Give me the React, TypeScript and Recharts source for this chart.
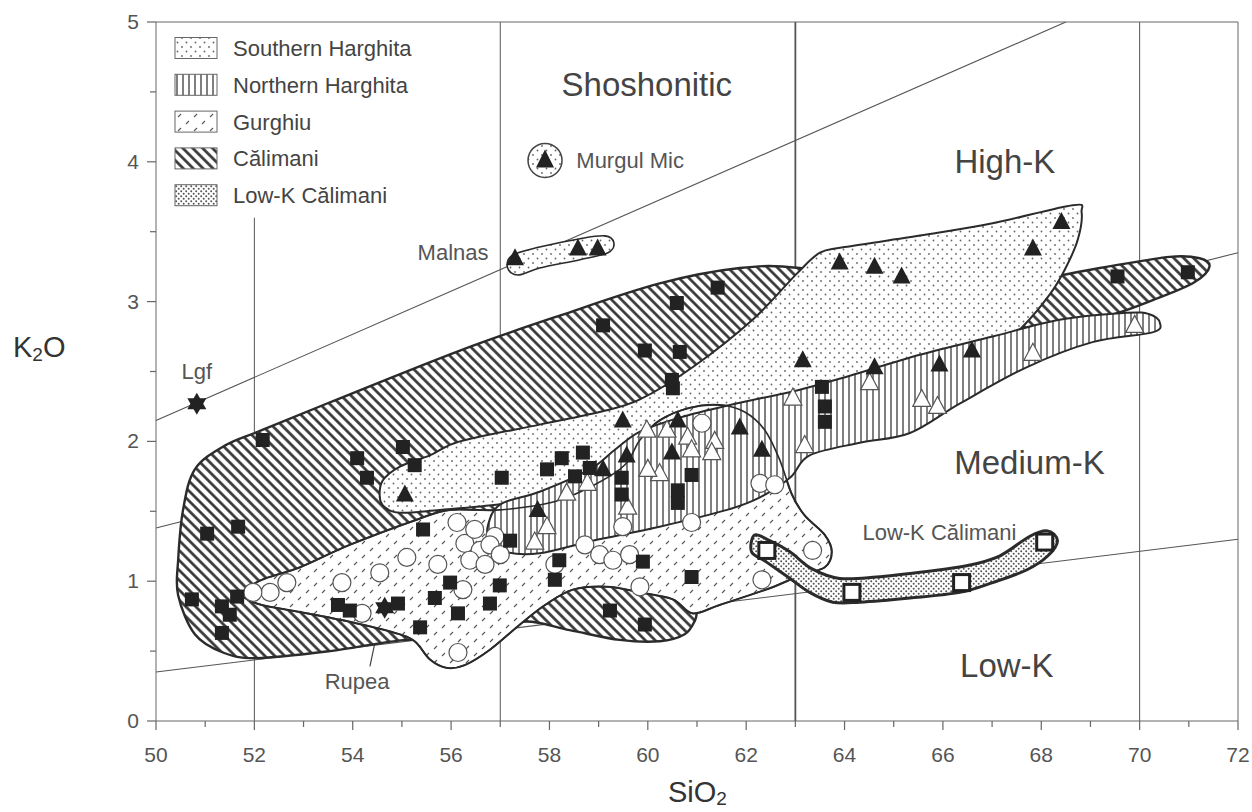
import React from "react";
import { ScatterChart, Scatter, XAxis, YAxis, ReferenceLine } from "recharts";

type Pt = { x: number; y: number };
type Label = { x: number; y: number; text: string };

const FONT = '"Liberation Sans", Arial, Helvetica, sans-serif';

// SiO2 wt% (x) vs K2O wt% (y)
const calimaniSamples: Pt[] = [
  { x: 52.17, y: 2.01 }, { x: 55.02, y: 1.96 }, { x: 54.09, y: 1.88 }, { x: 55.26, y: 1.83 },
  { x: 54.29, y: 1.74 }, { x: 51.04, y: 1.34 }, { x: 51.67, y: 1.39 }, { x: 55.43, y: 1.37 },
  { x: 50.73, y: 0.87 }, { x: 51.65, y: 0.89 }, { x: 51.34, y: 0.82 }, { x: 51.5, y: 0.76 },
  { x: 51.34, y: 0.63 }, { x: 53.7, y: 0.83 }, { x: 53.94, y: 0.79 }, { x: 54.92, y: 0.84 },
  { x: 55.98, y: 0.99 }, { x: 55.67, y: 0.88 }, { x: 56.14, y: 0.77 }, { x: 55.37, y: 0.67 },
  { x: 60.51, y: 2.38 }, { x: 57.03, y: 1.74 }, { x: 58.25, y: 1.88 }, { x: 58.68, y: 1.92 },
  { x: 57.95, y: 1.8 }, { x: 58.52, y: 1.75 }, { x: 58.82, y: 1.81 }, { x: 59.47, y: 1.74 },
  { x: 59.47, y: 1.62 }, { x: 60.89, y: 1.76 }, { x: 60.61, y: 1.65 }, { x: 60.61, y: 1.56 },
  { x: 57.2, y: 1.29 }, { x: 56.99, y: 0.97 }, { x: 56.79, y: 0.84 }, { x: 58.11, y: 1.01 },
  { x: 59.9, y: 1.14 }, { x: 60.89, y: 1.03 }, { x: 59.23, y: 0.79 }, { x: 59.94, y: 0.69 },
  { x: 58.2, y: 1.15 }, { x: 61.42, y: 3.1 }, { x: 60.59, y: 2.99 }, { x: 59.09, y: 2.83 },
  { x: 59.94, y: 2.65 }, { x: 60.65, y: 2.64 }, { x: 60.49, y: 2.44 }, { x: 63.54, y: 2.39 },
  { x: 63.6, y: 2.25 }, { x: 63.6, y: 2.14 }, { x: 69.55, y: 3.18 }, { x: 70.98, y: 3.21 },
];

const southernHarghitaSamples: Pt[] = [
  { x: 57.3, y: 3.31 }, { x: 58.58, y: 3.38 }, { x: 58.98, y: 3.38 },
  { x: 63.9, y: 3.28 }, { x: 64.61, y: 3.25 }, { x: 65.16, y: 3.18 }, { x: 67.83, y: 3.38 },
  { x: 68.41, y: 3.57 }, { x: 63.15, y: 2.58 }, { x: 64.61, y: 2.53 }, { x: 65.93, y: 2.55 },
  { x: 66.59, y: 2.65 }, { x: 59.49, y: 2.15 }, { x: 60.61, y: 2.15 }, { x: 61.87, y: 2.1 },
  { x: 62.32, y: 1.94 }, { x: 60.49, y: 1.92 }, { x: 59.57, y: 1.9 }, { x: 57.76, y: 1.51 },
  { x: 59.09, y: 1.8 }, { x: 55.06, y: 1.62 },
];

const northernHarghitaSamples: Pt[] = [
  { x: 62.95, y: 2.31 }, { x: 63.19, y: 1.97 }, { x: 64.51, y: 2.42 }, { x: 65.57, y: 2.3 },
  { x: 65.89, y: 2.25 }, { x: 67.83, y: 2.63 }, { x: 69.9, y: 2.83 }, { x: 60.39, y: 2.08 },
  { x: 60.81, y: 2.03 }, { x: 61.36, y: 2.0 }, { x: 60.89, y: 1.94 }, { x: 61.3, y: 1.92 },
  { x: 60.24, y: 1.77 }, { x: 58.35, y: 1.63 }, { x: 58.77, y: 1.7 }, { x: 59.59, y: 1.53 },
  { x: 57.95, y: 1.39 }, { x: 57.7, y: 1.28 }, { x: 59.98, y: 2.08 }, { x: 60.0, y: 1.8 },
];

const gurghiuSamples: Pt[] = [
  { x: 52.66, y: 0.99 }, { x: 52.32, y: 0.92 }, { x: 51.97, y: 0.92 }, { x: 53.78, y: 0.99 },
  { x: 54.19, y: 0.77 }, { x: 54.55, y: 1.06 }, { x: 55.1, y: 1.17 }, { x: 55.73, y: 1.12 },
  { x: 56.12, y: 1.42 }, { x: 56.24, y: 0.94 }, { x: 56.28, y: 1.27 }, { x: 56.14, y: 0.49 },
  { x: 56.48, y: 1.37 }, { x: 56.89, y: 1.32 }, { x: 56.59, y: 1.22 }, { x: 56.38, y: 1.15 },
  { x: 56.79, y: 1.26 }, { x: 57.0, y: 1.19 }, { x: 56.69, y: 1.12 }, { x: 58.11, y: 1.12 },
  { x: 58.72, y: 1.26 }, { x: 59.02, y: 1.19 }, { x: 59.29, y: 1.15 }, { x: 59.63, y: 1.19 },
  { x: 59.49, y: 1.39 }, { x: 59.84, y: 0.96 }, { x: 61.1, y: 2.13 }, { x: 60.89, y: 1.42 },
  { x: 62.28, y: 1.7 }, { x: 62.58, y: 1.69 }, { x: 62.32, y: 1.01 }, { x: 63.35, y: 1.22 },
];

const lowKCalimaniSamples: Pt[] = [
  { x: 62.42, y: 1.22 }, { x: 64.15, y: 0.92 }, { x: 66.38, y: 0.99 }, { x: 68.07, y: 1.28 },
];

const starSamples: Pt[] = [{ x: 50.83, y: 2.27 }, { x: 54.65, y: 0.81 }];
const murgulMicSymbol: Pt[] = [{ x: 57.91, y: 4.01 }];

// field outlines
const calimaniField: Pt[] = [
  { x: 50.79, y: 1.8 }, { x: 51.4, y: 1.97 }, { x: 52.15, y: 2.08 }, { x: 53.54, y: 2.28 },
  { x: 56.18, y: 2.65 }, { x: 58.21, y: 2.9 }, { x: 60.24, y: 3.13 }, { x: 61.87, y: 3.24 },
  { x: 63.09, y: 3.24 }, { x: 65.12, y: 3.12 }, { x: 67.15, y: 3.12 }, { x: 69.19, y: 3.24 },
  { x: 70.61, y: 3.32 }, { x: 71.22, y: 3.31 }, { x: 71.42, y: 3.25 }, { x: 71.12, y: 3.14 },
  { x: 70.41, y: 3.03 }, { x: 69.19, y: 2.88 }, { x: 67.15, y: 2.73 }, { x: 65.53, y: 2.5 },
  { x: 64.31, y: 2.15 }, { x: 63.29, y: 1.97 }, { x: 62.78, y: 1.72 }, { x: 62.58, y: 1.37 },
  { x: 62.28, y: 1.04 }, { x: 61.46, y: 0.9 }, { x: 61.06, y: 0.83 }, { x: 60.96, y: 0.72 },
  { x: 60.75, y: 0.62 }, { x: 60.24, y: 0.57 }, { x: 59.43, y: 0.58 }, { x: 58.41, y: 0.65 },
  { x: 57.46, y: 0.71 }, { x: 56.59, y: 0.58 }, { x: 55.1, y: 0.58 }, { x: 53.54, y: 0.5 },
  { x: 52.05, y: 0.45 }, { x: 51.36, y: 0.49 }, { x: 50.79, y: 0.62 }, { x: 50.45, y: 0.9 },
  { x: 50.45, y: 1.15 }, { x: 50.55, y: 1.51 },
];

const southernHarghitaField: Pt[] = [
  { x: 54.55, y: 1.6 }, { x: 54.61, y: 1.72 }, { x: 54.96, y: 1.82 }, { x: 55.57, y: 1.9 },
  { x: 56.18, y: 2.0 }, { x: 57.8, y: 2.12 }, { x: 59.02, y: 2.21 }, { x: 59.84, y: 2.3 },
  { x: 60.91, y: 2.53 }, { x: 62.13, y: 2.87 }, { x: 63.03, y: 3.2 }, { x: 63.5, y: 3.35 },
  { x: 64.0, y: 3.39 }, { x: 65.67, y: 3.48 }, { x: 67.01, y: 3.56 }, { x: 68.64, y: 3.69 },
  { x: 68.82, y: 3.64 }, { x: 68.74, y: 3.44 }, { x: 68.48, y: 3.23 }, { x: 68.17, y: 3.05 },
  { x: 67.62, y: 2.82 }, { x: 67.01, y: 2.63 }, { x: 66.34, y: 2.51 }, { x: 65.12, y: 2.42 },
  { x: 63.09, y: 2.3 }, { x: 61.06, y: 2.08 }, { x: 59.43, y: 1.8 }, { x: 58.21, y: 1.62 },
  { x: 57.0, y: 1.55 }, { x: 55.77, y: 1.51 }, { x: 54.96, y: 1.49 }, { x: 54.65, y: 1.53 },
];

const gurghiuField: Pt[] = [
  { x: 51.77, y: 0.92 }, { x: 52.15, y: 1.01 }, { x: 52.93, y: 1.1 }, { x: 53.94, y: 1.26 },
  { x: 55.3, y: 1.44 }, { x: 55.98, y: 1.51 }, { x: 57.0, y: 1.51 }, { x: 58.21, y: 1.58 },
  { x: 59.43, y: 1.8 }, { x: 59.84, y: 2.01 }, { x: 60.24, y: 2.15 }, { x: 60.85, y: 2.24 },
  { x: 61.46, y: 2.26 }, { x: 61.97, y: 2.21 }, { x: 62.38, y: 2.08 }, { x: 62.68, y: 1.87 },
  { x: 62.93, y: 1.62 }, { x: 63.19, y: 1.47 }, { x: 63.6, y: 1.33 }, { x: 63.74, y: 1.21 },
  { x: 63.6, y: 1.1 }, { x: 63.09, y: 1.04 }, { x: 62.48, y: 0.95 }, { x: 61.46, y: 0.83 },
  { x: 60.91, y: 0.77 }, { x: 60.51, y: 0.87 }, { x: 59.84, y: 0.92 }, { x: 59.17, y: 0.96 },
  { x: 58.48, y: 0.94 }, { x: 57.91, y: 0.83 }, { x: 57.4, y: 0.69 }, { x: 56.79, y: 0.51 },
  { x: 56.28, y: 0.4 }, { x: 55.91, y: 0.38 }, { x: 55.57, y: 0.44 }, { x: 55.26, y: 0.57 },
  { x: 54.86, y: 0.63 }, { x: 53.94, y: 0.71 }, { x: 52.93, y: 0.78 }, { x: 52.15, y: 0.83 },
  { x: 51.81, y: 0.88 },
];

const northernHarghitaField: Pt[] = [
  { x: 56.75, y: 1.4 }, { x: 57.0, y: 1.55 }, { x: 57.8, y: 1.64 }, { x: 58.82, y: 1.8 },
  { x: 59.33, y: 1.94 }, { x: 59.84, y: 2.07 }, { x: 60.65, y: 2.17 }, { x: 61.67, y: 2.26 },
  { x: 63.09, y: 2.37 }, { x: 64.11, y: 2.47 }, { x: 65.53, y: 2.62 }, { x: 67.01, y: 2.75 },
  { x: 68.37, y: 2.87 }, { x: 69.74, y: 2.92 }, { x: 70.2, y: 2.91 }, { x: 70.41, y: 2.85 },
  { x: 70.26, y: 2.78 }, { x: 69.04, y: 2.71 }, { x: 67.7, y: 2.53 }, { x: 66.34, y: 2.27 },
  { x: 65.33, y: 2.06 }, { x: 64.31, y: 1.99 }, { x: 63.29, y: 1.9 }, { x: 62.89, y: 1.74 },
  { x: 62.28, y: 1.6 }, { x: 61.61, y: 1.51 }, { x: 60.24, y: 1.39 }, { x: 58.88, y: 1.29 },
  { x: 57.8, y: 1.2 }, { x: 57.09, y: 1.21 }, { x: 56.79, y: 1.29 },
];

const malnasField: Pt[] = [
  { x: 57.15, y: 3.24 }, { x: 57.24, y: 3.33 }, { x: 57.8, y: 3.39 }, { x: 58.62, y: 3.45 },
  { x: 59.13, y: 3.47 }, { x: 59.31, y: 3.42 }, { x: 59.19, y: 3.35 }, { x: 58.62, y: 3.3 },
  { x: 57.8, y: 3.24 }, { x: 57.36, y: 3.19 },
];

const lowKCalimaniField: Pt[] = [
  { x: 62.17, y: 1.33 }, { x: 62.48, y: 1.29 }, { x: 62.89, y: 1.21 }, { x: 63.33, y: 1.09 },
  { x: 63.9, y: 1.02 }, { x: 64.65, y: 1.03 }, { x: 65.67, y: 1.07 }, { x: 66.48, y: 1.11 },
  { x: 67.15, y: 1.18 }, { x: 67.76, y: 1.32 }, { x: 68.13, y: 1.36 }, { x: 68.33, y: 1.29 },
  { x: 68.13, y: 1.18 }, { x: 67.7, y: 1.08 }, { x: 67.01, y: 0.99 }, { x: 66.34, y: 0.92 },
  { x: 65.33, y: 0.88 }, { x: 64.31, y: 0.85 }, { x: 63.76, y: 0.85 }, { x: 63.29, y: 0.92 },
  { x: 62.85, y: 1.03 }, { x: 62.4, y: 1.14 }, { x: 62.11, y: 1.21 },
];

// classification boundaries
const shoshoniticLine: Pt[] = [{ x: 50, y: 2.15 }, { x: 68.5, y: 5 }];
const highKLine: Pt[] = [{ x: 50, y: 1.38 }, { x: 72, y: 3.35 }];
const lowKLine: Pt[] = [{ x: 50, y: 0.35 }, { x: 72, y: 1.3 }];
const basaltLine: Pt[] = [{ x: 52, y: 0 }, { x: 52, y: 3.6 }];
const rupeaLeader: Pt[] = [{ x: 54.35, y: 0.39 }, { x: 54.57, y: 0.76 }];
const fullVerticals = [57, 63, 70];

const regionLabels: Label[] = [
  { x: 59.98, y: 4.55, text: "Shoshonitic" },
  { x: 67.26, y: 4.0, text: "High-K" },
  { x: 67.76, y: 1.85, text: "Medium-K" },
  { x: 67.3, y: 0.4, text: "Low-K" },
];
const smallLabels: Label[] = [
  { x: 59.64, y: 4.01, text: "Murgul Mic" },
  { x: 56.04, y: 3.35, text: "Malnas" },
  { x: 50.83, y: 2.5, text: "Lgf" },
  { x: 54.09, y: 0.28, text: "Rupea" },
  { x: 65.93, y: 1.35, text: "Low-K Călimani" },
];

const legendNames = ["Southern Harghita", "Northern Harghita", "Gurghiu", "Călimani", "Low-K Călimani"];
const legendFills = ["url(#shDots)", "url(#nhLines)", "url(#gDashes)", "url(#cHatch)", "url(#lkDots)"];

const xTicks = [50, 51, 52, 53, 54, 55, 56, 57, 58, 59, 60, 61, 62, 63, 64, 65, 66, 67, 68, 69, 70, 71, 72];
const yTicks = [0, 0.5, 1, 1.5, 2, 2.5, 3, 3.5, 4, 4.5, 5];

function closedPath(pts: { x: number; y: number }[]) {
  const n = pts ? pts.length : 0;
  if (n < 3) return "";
  let d = `M${pts[0].x},${pts[0].y}`;
  for (let i = 0; i < n; i++) {
    const p0 = pts[(i - 1 + n) % n];
    const p1 = pts[i];
    const p2 = pts[(i + 1) % n];
    const p3 = pts[(i + 2) % n];
    const c1x = p1.x + (p2.x - p0.x) / 6;
    const c1y = p1.y + (p2.y - p0.y) / 6;
    const c2x = p2.x - (p3.x - p1.x) / 6;
    const c2y = p2.y - (p3.y - p1.y) / 6;
    d += `C${c1x},${c1y} ${c2x},${c2y} ${p2.x},${p2.y}`;
  }
  return d + "Z";
}

const field = (fill: string, width: number) => (p: any) => (
  <path d={closedPath(p.points)} fill={fill} stroke="#2b2b2b" strokeWidth={width} strokeLinejoin="round" />
);

const noDot = () => <g />;

const BlackSquare = ({ cx, cy }: any) => <rect x={cx - 7} y={cy - 7} width={14} height={14} fill="#222" />;
const BlackTriangle = ({ cx, cy }: any) => (
  <path d={`M${cx},${cy - 10}L${cx + 9},${cy + 7}L${cx - 9},${cy + 7}Z`} fill="#222" />
);
const WhiteTriangle = ({ cx, cy }: any) => (
  <path d={`M${cx},${cy - 10}L${cx + 9},${cy + 7}L${cx - 9},${cy + 7}Z`} fill="#fff" stroke="#555" strokeWidth={1.2} />
);
const WhiteCircle = ({ cx, cy }: any) => <circle cx={cx} cy={cy} r={9} fill="#fff" stroke="#555" strokeWidth={1.2} />;
const WhiteSquare = ({ cx, cy }: any) => (
  <rect x={cx - 8} y={cy - 8} width={16} height={16} fill="#fff" stroke="#222" strokeWidth={3} />
);
const Star = ({ cx, cy }: any) => {
  const r = 11;
  const tri = (rot: number) =>
    [0, 1, 2]
      .map((k) => {
        const a = rot + (k * 2 * Math.PI) / 3;
        return `${cx + r * Math.sin(a)},${cy - r * Math.cos(a)}`;
      })
      .join(" ");
  return (
    <g fill="#222">
      <polygon points={tri(0)} />
      <polygon points={tri(Math.PI)} />
    </g>
  );
};
const MurgulMic = ({ cx, cy }: any) => (
  <g>
    <circle cx={cx} cy={cy} r={17} fill="url(#shDots)" stroke="#444" strokeWidth={1.5} />
    <path d={`M${cx},${cy - 11}L${cx + 9},${cy + 7}L${cx - 9},${cy + 7}Z`} fill="#222" />
  </g>
);

const textShape = (size: number, color: string) => (p: any) => (
  <text x={p.cx} y={p.cy} textAnchor="middle" dominantBaseline="central" fontSize={size} fill={color} fontFamily={FONT}>
    {p.payload.text}
  </text>
);

const XTick = ({ x, y, payload }: any) => {
  const major = payload.value % 2 === 0;
  return (
    <g>
      <line x1={x} y1={y} x2={x} y2={y + (major ? 9 : 6)} stroke="#666" strokeWidth={1.2} />
      {major && (
        <text x={x} y={y + 41} textAnchor="middle" fontSize={21} fill="#555" fontFamily={FONT}>
          {payload.value}
        </text>
      )}
    </g>
  );
};

const YTick = ({ x, y, payload }: any) => {
  const major = Number.isInteger(payload.value);
  return (
    <g>
      <line x1={x} y1={y} x2={x - (major ? 9 : 6)} y2={y} stroke="#666" strokeWidth={1.2} />
      {major && (
        <text x={x - 17} y={y + 7} textAnchor="end" fontSize={21} fill="#555" fontFamily={FONT}>
          {payload.value}
        </text>
      )}
    </g>
  );
};

const seg = (pts: Pt[]) => pts.map((p) => ({ x: p.x, y: p.y }));

export default function App() {
  return (
    <div style={{ position: "absolute", left: 0, top: 0, width: 1252, height: 812, background: "#fff" }}>
      <svg width={0} height={0} style={{ position: "absolute" }}>
        <defs>
          <pattern id="shDots" width="9" height="9" patternUnits="userSpaceOnUse">
            <rect width="9" height="9" fill="#fff" />
            <circle cx="2" cy="2" r="0.9" fill="#666" />
            <circle cx="6.5" cy="6.5" r="0.9" fill="#666" />
          </pattern>
          <pattern id="nhLines" width="6" height="6" patternUnits="userSpaceOnUse">
            <rect width="6" height="6" fill="#fff" />
            <line x1="3" y1="0" x2="3" y2="6" stroke="#3a3a3a" strokeWidth="1.3" />
          </pattern>
          <pattern id="gDashes" width="16" height="14" patternUnits="userSpaceOnUse">
            <rect width="16" height="14" fill="#fff" />
            <line x1="2" y1="5" x2="5" y2="2" stroke="#555" strokeWidth="1.1" />
            <line x1="10" y1="12" x2="13" y2="9" stroke="#555" strokeWidth="1.1" />
          </pattern>
          <pattern id="cHatch" width="7" height="7" patternUnits="userSpaceOnUse" patternTransform="rotate(45)">
            <rect width="7" height="7" fill="#fff" />
            <line x1="0" y1="3.5" x2="7" y2="3.5" stroke="#2e2e2e" strokeWidth="2.6" />
          </pattern>
          <pattern id="lkDots" width="5" height="5" patternUnits="userSpaceOnUse">
            <rect width="5" height="5" fill="#fff" />
            <circle cx="1.2" cy="1.2" r="1" fill="#555" />
            <circle cx="3.7" cy="3.7" r="1" fill="#555" />
          </pattern>
        </defs>
      </svg>
      <ScatterChart width={1252} height={812} margin={{ top: 22, right: 14, bottom: 61, left: 96 }}>
        <XAxis
          type="number"
          dataKey="x"
          domain={[50, 72]}
          ticks={xTicks}
          interval={0}
          height={30}
          tickSize={0}
          tickMargin={0}
          tickLine={false}
          tick={<XTick />}
          stroke="#666"
          allowDataOverflow
        />
        <YAxis
          type="number"
          dataKey="y"
          domain={[0, 5]}
          ticks={yTicks}
          interval={0}
          width={60}
          tickSize={0}
          tickMargin={0}
          tickLine={false}
          tick={<YTick />}
          stroke="#666"
          allowDataOverflow
        />

        <Scatter data={calimaniField} line={field("url(#cHatch)", 2.4)} shape={noDot} isAnimationActive={false} />
        <Scatter data={southernHarghitaField} line={field("url(#shDots)", 2)} shape={noDot} isAnimationActive={false} />
        <Scatter data={gurghiuField} line={field("url(#gDashes)", 2)} shape={noDot} isAnimationActive={false} />
        <Scatter data={northernHarghitaField} line={field("url(#nhLines)", 2)} shape={noDot} isAnimationActive={false} />
        <Scatter data={gurghiuField} line={field("none", 1.6)} shape={noDot} isAnimationActive={false} />
        <Scatter data={malnasField} line={field("url(#shDots)", 1.6)} shape={noDot} isAnimationActive={false} />
        <Scatter data={lowKCalimaniField} line={field("url(#lkDots)", 3)} shape={noDot} isAnimationActive={false} />

        {fullVerticals.map((v) => (
          <ReferenceLine key={v} x={v} stroke="#555" strokeWidth={v === 63 ? 1.8 : 1} />
        ))}
        <ReferenceLine segment={seg(basaltLine)} stroke="#555" strokeWidth={1} />
        <ReferenceLine segment={seg(shoshoniticLine)} stroke="#555" strokeWidth={1.1} />
        <ReferenceLine segment={seg(highKLine)} stroke="#555" strokeWidth={1.1} />
        <ReferenceLine segment={seg(lowKLine)} stroke="#555" strokeWidth={1.1} />
        <ReferenceLine segment={seg(rupeaLeader)} stroke="#444" strokeWidth={1.2} />
        <ReferenceLine y={5} stroke="#666" strokeWidth={1} />
        <ReferenceLine x={72} stroke="#666" strokeWidth={1} />

        <Scatter data={gurghiuSamples} shape={WhiteCircle} isAnimationActive={false} />
        <Scatter data={northernHarghitaSamples} shape={WhiteTriangle} isAnimationActive={false} />
        <Scatter data={calimaniSamples} shape={BlackSquare} isAnimationActive={false} />
        <Scatter data={southernHarghitaSamples} shape={BlackTriangle} isAnimationActive={false} />
        <Scatter data={lowKCalimaniSamples} shape={WhiteSquare} isAnimationActive={false} />
        <Scatter data={starSamples} shape={Star} isAnimationActive={false} />
        <Scatter data={murgulMicSymbol} shape={MurgulMic} isAnimationActive={false} />
        <Scatter data={regionLabels} shape={textShape(33, "#444")} isAnimationActive={false} />
        <Scatter data={smallLabels} shape={textShape(22, "#555")} isAnimationActive={false} />
      </ScatterChart>

      <svg width={1252} height={812} style={{ position: "absolute", left: 0, top: 0, pointerEvents: "none" }}>
        {legendNames.map((name, i) => {
          const cy = 48 + i * 36.8;
          return (
            <g key={name}>
              <rect x={175} y={cy - 10.5} width={42} height={21} fill={legendFills[i]} stroke="#666" strokeWidth={1} />
              <text x={233} y={cy + 8} fontSize={22} fill="#444" fontFamily={FONT}>
                {name}
              </text>
            </g>
          );
        })}
        <text x={13} y={357} fontSize={29} fill="#333" fontFamily={FONT}>
          K
          <tspan fontSize={19} dy={4}>2</tspan>
          <tspan dy={-4}>O</tspan>
        </text>
        <text x={668} y={802} fontSize={29} fill="#333" fontFamily={FONT}>
          SiO
          <tspan fontSize={19} dy={3}>2</tspan>
        </text>
      </svg>
    </div>
  );
}
